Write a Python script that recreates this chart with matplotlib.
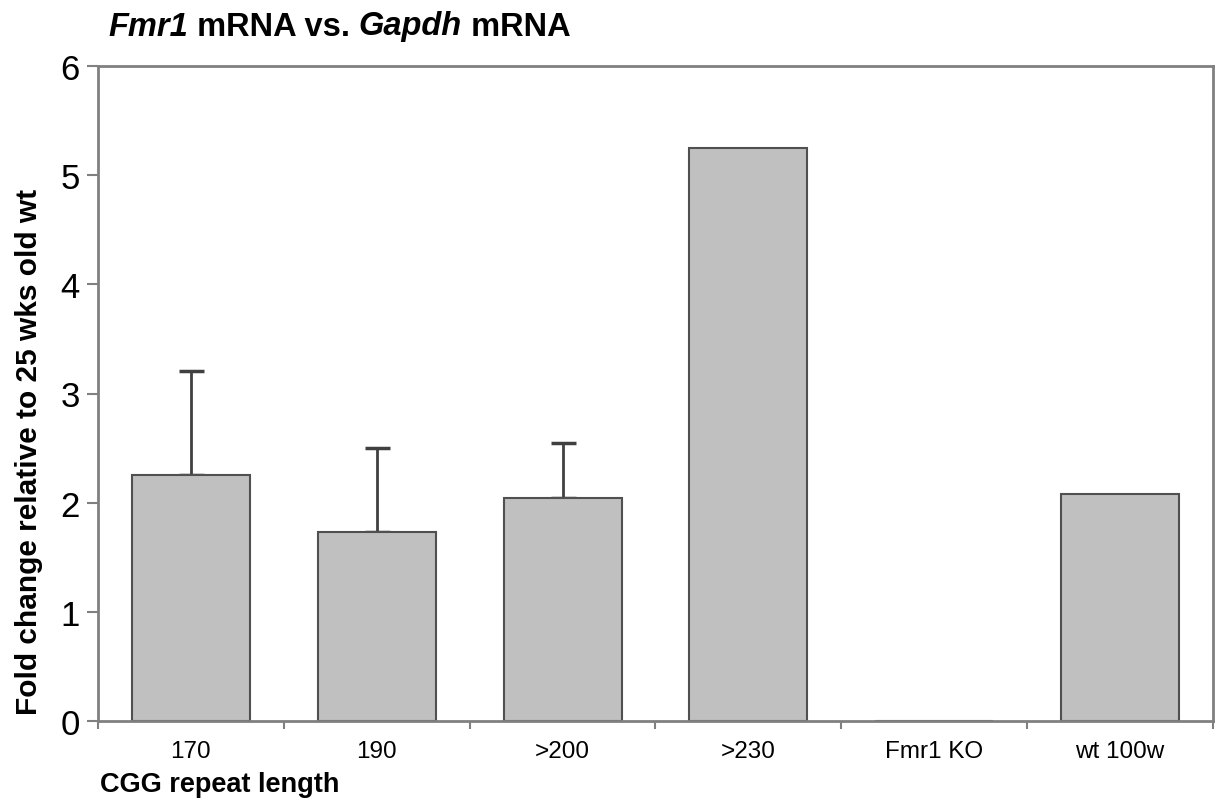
import numpy as np
import matplotlib.pyplot as plt

categories = ['170', '190', '>200', '>230', 'Fmr1 KO', 'wt 100w']
fold_change = [2.25, 1.73, 2.04, 5.25, 0.0, 2.08]
err_upper = [0.96, 0.77, 0.51, 0.0, 0.0, 0.0]

plt.rcParams['font.family'] = ['Liberation Sans', 'DejaVu Sans']

fig = plt.figure(figsize=(12.2, 8.04), dpi=100)
ax = fig.add_axes([98/1220, 82/804, 1115/1220, 655/804])

x = np.arange(len(categories))
ax.bar(x, fold_change, width=0.635, color='#c0c0c0', edgecolor='#505050', linewidth=1.5, zorder=2)

# upward-only error bars where there is an error
has_err = [i for i, e in enumerate(err_upper) if e > 0]
ax.errorbar(x[has_err], [fold_change[i] for i in has_err],
            yerr=[[0]*len(has_err), [err_upper[i] for i in has_err]],
            fmt='none', ecolor='#404040', elinewidth=2, capsize=9, capthick=2.5, zorder=1)

ax.set_xlim(-0.5, len(categories) - 0.5)
ax.set_ylim(0, 6)
ax.set_yticks(range(7))
ax.set_xticks(x)
ax.set_xticklabels(categories)
ax.set_xticks(np.arange(-0.5, len(categories)), minor=True)

for s in ax.spines.values():
    s.set_color('#808080')
    s.set_linewidth(2)

ax.tick_params(axis='y', direction='out', length=8, width=1.5, color='#808080', labelsize=25, pad=5)
ax.tick_params(axis='x', which='major', length=0, labelsize=17.5, pad=14)
ax.tick_params(axis='x', which='minor', direction='out', length=6, width=1.5, color='#808080')

fig.text(0.024, (804 - 452) / 804, 'Fold change relative to 25 wks old wt', rotation=90,
         fontsize=21.5, fontweight='bold', ha='center', va='center')
fig.text(100/1220, (804 - 785) / 804, 'CGG repeat length', fontsize=19.5, fontweight='bold',
         ha='left', va='center')

# title with italic gene names
t = fig.text(108/1220, (804 - 27) / 804, 'Fmr1', fontsize=23.5, fontweight='bold', style='italic',
             ha='left', va='center')
parts = [(' mRNA vs. ', 'normal'), ('Gapdh', 'italic'), (' mRNA', 'normal')]
for txt, st in parts:
    t = ax.annotate(txt, xy=(1, 0), xycoords=t, xytext=(0, 0), textcoords='offset points',
                    fontsize=23.5, fontweight='bold', style=st, ha='left', va='bottom',
                    annotation_clip=False)

fig.savefig('out.png', dpi=100)
